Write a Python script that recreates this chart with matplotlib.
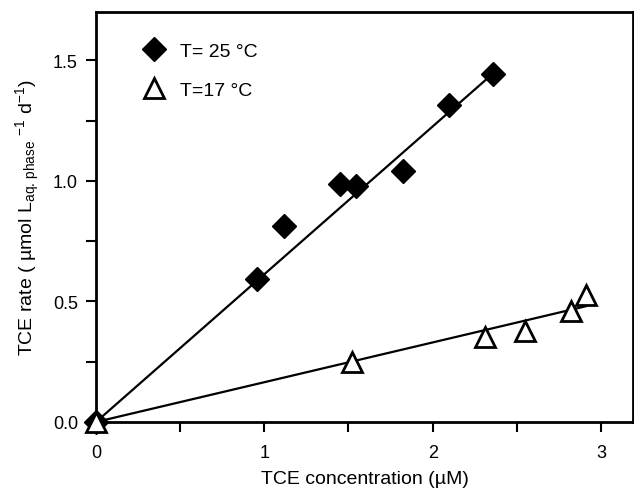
import numpy as np
import matplotlib.pyplot as plt

plt.rcParams['font.family'] = ['Liberation Sans', 'DejaVu Sans']
plt.rcParams['mathtext.fontset'] = 'custom'
plt.rcParams['mathtext.rm'] = 'Liberation Sans'
plt.rcParams['mathtext.it'] = 'Liberation Sans:italic'

# T = 25 C
x25 = [0.0, 0.954, 1.116, 1.448, 1.543, 1.824, 2.097, 2.358]
y25 = [0.0, 0.593, 0.815, 0.988, 0.980, 1.043, 1.315, 1.444]
# T = 17 C
x17 = [0.0, 1.523, 2.313, 2.550, 2.823, 2.908]
y17 = [0.0, 0.248, 0.351, 0.379, 0.459, 0.527]

slope25 = 0.613
slope17 = 0.165
fit25_x = [0.0, 2.36]
fit17_x = [0.0, 2.91]

fig = plt.figure(figsize=(6.34, 4.89), dpi=100)
ax = fig.add_axes([0.1514, 0.135, 0.847, 0.838])

ax.plot(fit25_x, [slope25 * v for v in fit25_x], color='black', lw=1.6)
ax.plot(fit17_x, [slope17 * v for v in fit17_x], color='black', lw=1.6)

ax.plot(x25, y25, 'D', color='black', ms=12, clip_on=False, zorder=3, label='T= 25 °C')
ax.plot(x17, y17, '^', mfc='white', mec='black', mew=2, ms=14, clip_on=False, zorder=3,
        label='T=17 °C')

ax.set_xlim(0, 3.19)
ax.set_ylim(0, 1.70)
ax.set_xticks([0, 1, 2, 3])
ax.set_xticks([0.5, 1.5, 2.5], minor=True)
ax.set_yticks([0.0, 0.5, 1.0, 1.5])
ax.set_yticklabels(['0.0', '0.5', '1.0', '1.5'])
ax.set_yticks([0.25, 0.75, 1.25], minor=True)
ax.tick_params(which='both', direction='out', width=1.5, length=7, labelsize=13)
ax.tick_params(axis='x', which='major', pad=9)
ax.tick_params(axis='y', which='major', pad=6)
for s in ax.spines.values():
    s.set_linewidth(2)

ax.set_xlabel('TCE concentration (µM)', fontsize=14, labelpad=6)
ax.set_ylabel(r'TCE rate ( µmol L$_{\mathrm{aq.\,phase}}$ $^{-1}$ d$^{-1}$)', fontsize=14,
              labelpad=8)

ax.legend(loc='upper left', frameon=False, fontsize=14, numpoints=1,
          bbox_to_anchor=(0.04, 0.97), handletextpad=0.3, labelspacing=1.1)

fig.savefig('out.png', dpi=100)
